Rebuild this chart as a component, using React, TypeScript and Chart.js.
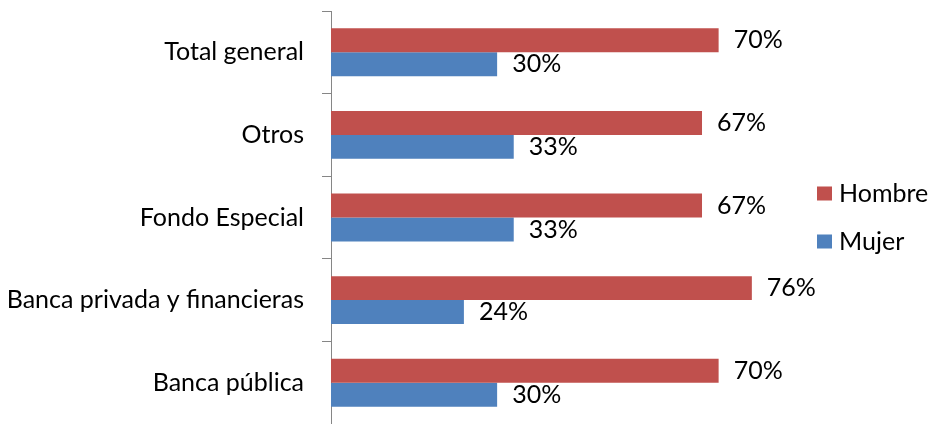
import React, { useEffect, useRef } from "react";
import { Chart, registerables } from "chart.js";

Chart.register(...registerables);

const categories = ["Total general", "Otros", "Fondo Especial", "Banca privada y financieras", "Banca pública"];
const hombre = [70, 67, 67, 76, 70];
const mujer = [30, 33, 33, 24, 30];
const seriesNames = ["Hombre", "Mujer"];
const colors = ["#C0504D", "#4F81BD"];

const FONT_FAMILY = "Lato, 'Open Sans', sans-serif";
const FONT_SIZE = 25;

const valueLabels = {
  id: "valueLabels",
  afterDatasetsDraw(chart: any) {
    const ctx = chart.ctx;
    ctx.save();
    ctx.font = `${FONT_SIZE}px ${FONT_FAMILY}`;
    ctx.fillStyle = "#000";
    ctx.textAlign = "left";
    ctx.textBaseline = "middle";
    chart.data.datasets.forEach((ds: any, i: number) => {
      const meta = chart.getDatasetMeta(i);
      meta.data.forEach((bar: any, j: number) => {
        ctx.fillText(`${ds.data[j]}%`, bar.x + 15, bar.y);
      });
    });
    ctx.restore();
  },
};

const sideLegend = {
  id: "sideLegend",
  afterDraw(chart: any) {
    const ctx = chart.ctx;
    const area = chart.chartArea;
    const dsets = chart.data.datasets;
    const spacing = 48;
    const cy = (area.top + area.bottom) / 2 - ((dsets.length - 1) * spacing) / 2;
    const boxX = area.right + 43;
    ctx.save();
    ctx.font = `${FONT_SIZE}px ${FONT_FAMILY}`;
    ctx.textAlign = "left";
    ctx.textBaseline = "middle";
    dsets.forEach((ds: any, i: number) => {
      const y = cy + i * spacing;
      ctx.fillStyle = ds.backgroundColor;
      ctx.fillRect(boxX, y - 7, 15, 14);
      ctx.fillStyle = "#000";
      ctx.fillText(ds.label, boxX + 22, y);
    });
    ctx.restore();
  },
};

export default function App() {
  const ref = useRef<HTMLCanvasElement | null>(null);
  useEffect(() => {
    if (!ref.current) return;
    const chart = new Chart(ref.current, {
      type: "bar",
      data: {
        labels: categories,
        datasets: [
          { label: seriesNames[0], data: hombre, backgroundColor: colors[0], categoryPercentage: 0.58, barPercentage: 1 },
          { label: seriesNames[1], data: mujer, backgroundColor: colors[1], categoryPercentage: 0.58, barPercentage: 1 },
        ],
      },
      options: {
        indexAxis: "y",
        animation: false,
        responsive: true,
        maintainAspectRatio: false,
        layout: { padding: { top: 11, bottom: -2, left: 0, right: 156 } },
        plugins: {
          tooltip: { enabled: false },
          legend: { display: false },
        },
        scales: {
          x: { display: false, min: 0, max: 80 },
          y: {
            afterFit: (s: any) => {
              s.width = 331;
              s.paddingTop = 0;
              s.paddingBottom = 0;
            },
            grid: { drawOnChartArea: false, drawTicks: true, tickLength: 9, color: "#868686", offset: true },
            border: { display: true, color: "#868686", width: 1 },
            ticks: { color: "#000", padding: 18, font: { family: FONT_FAMILY, size: FONT_SIZE } },
          },
        },
      },
      plugins: [valueLabels, sideLegend],
    });
    return () => chart.destroy();
  }, []);
  return (
    <div style={{ position: "absolute", left: 0, top: 0, width: 930, height: 424, background: "#fff" }}>
      <canvas ref={ref} />
    </div>
  );
}
